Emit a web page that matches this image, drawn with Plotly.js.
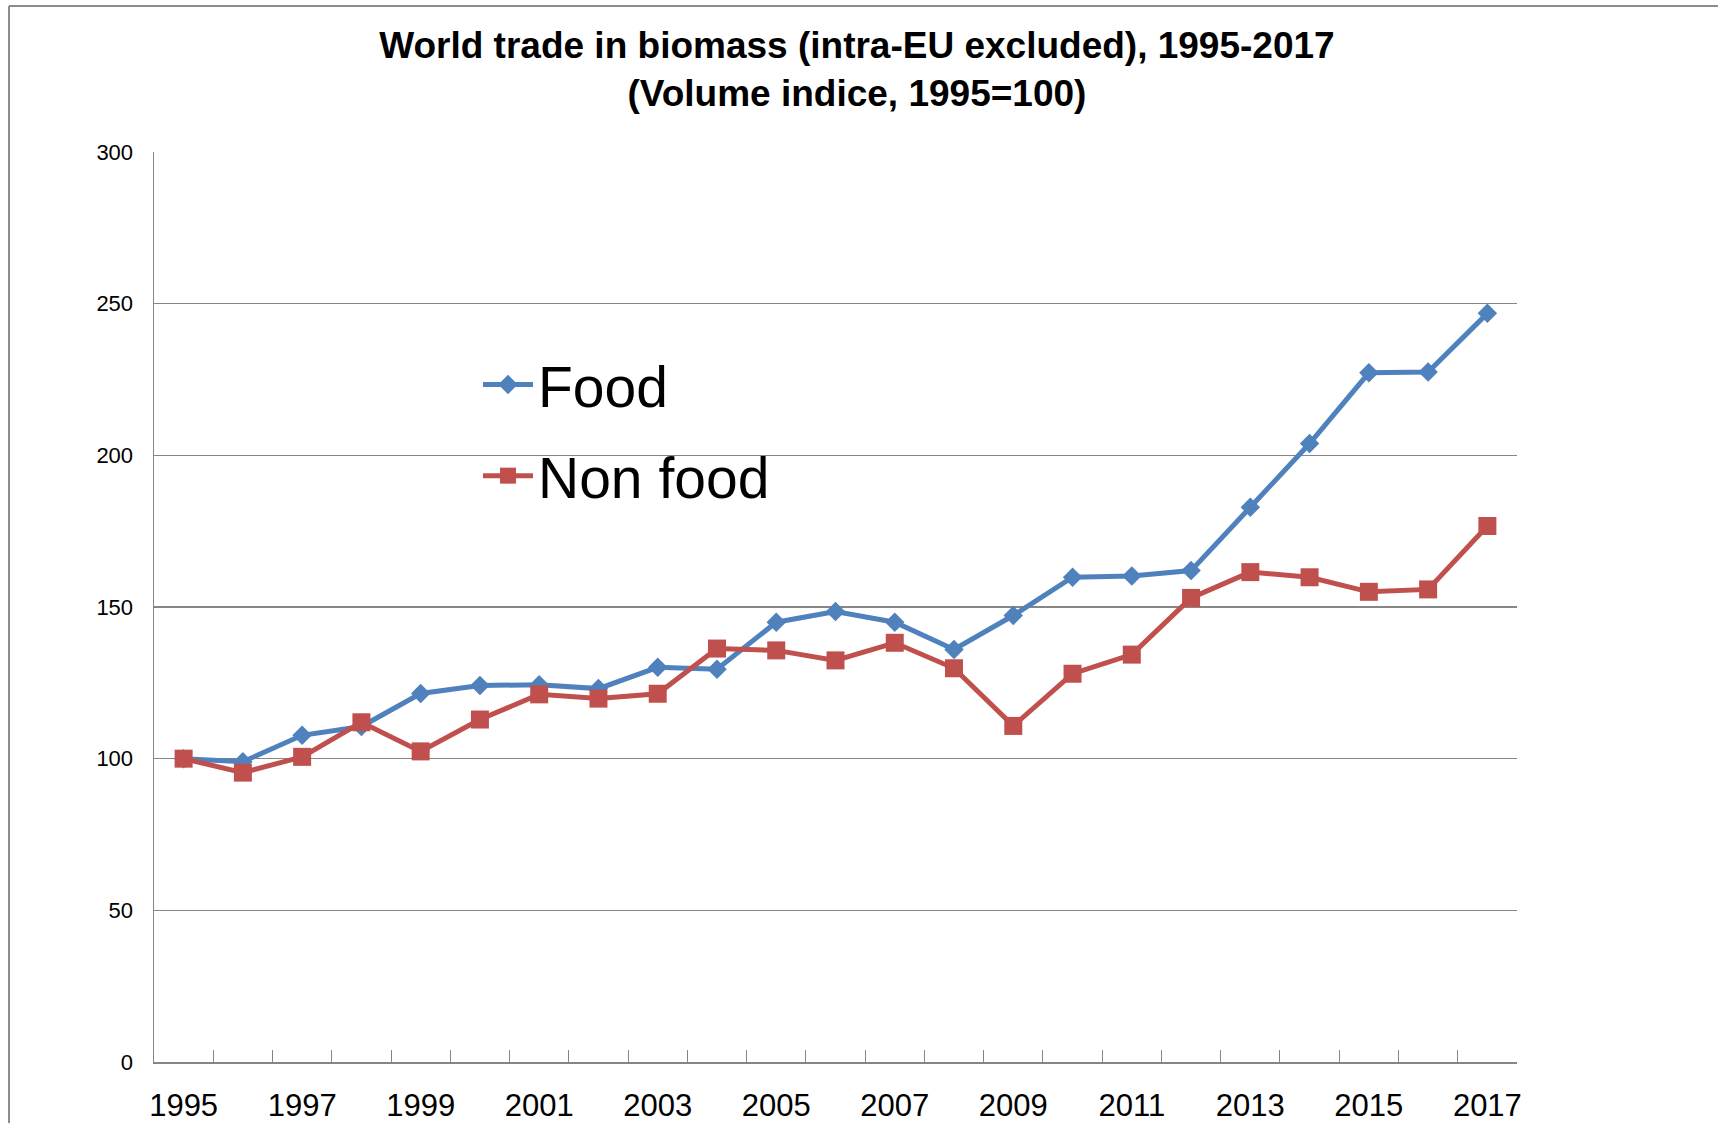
<!DOCTYPE html>
<html>
<head>
<meta charset="utf-8">
<script src="https://cdn.plot.ly/plotly-3.0.1.min.js"></script>
<style>
  html, body { margin: 0; padding: 0; background: #ffffff; }
  #chart { width: 1718px; height: 1123px; }
</style>
</head>
<body>
<div id="chart"></div>
<script>
// ---- Data ----
var years = ['1995','1996','1997','1998','1999','2000','2001','2002','2003','2004','2005','2006',
             '2007','2008','2009','2010','2011','2012','2013','2014','2015','2016','2017'];
var xTickLabels = ['1995','','1997','','1999','','2001','','2003','','2005','',
                   '2007','','2009','','2011','','2013','','2015','','2017'];
var foodValues = [100, 99, 107.7, 110.6, 121.5, 124.1, 124.4, 123.1, 130.1, 129.5, 145, 148.5,
                  145, 136, 147.2, 159.8, 160.2, 162, 182.9, 203.9, 227.2, 227.5, 246.8];
var nonFoodValues = [100, 95.4, 100.6, 112, 102.4, 112.9, 121.2, 119.8, 121.4, 136.3, 135.7, 132.4,
                     138.2, 129.8, 110.8, 128, 134.3, 153, 161.5, 159.8, 155, 155.8, 176.7];
var seriesNames = ['Food', 'Non food'];
var titleText = 'World trade in biomass (intra-EU excluded), 1995-2017<br>(Volume indice, 1995=100)';

// ---- Layout geometry ----
var W = 1718, H = 1123;
var mL = 154, mR = 201, mT = 152, mB = 61;
var pw = W - mL - mR, ph = H - mT - mB;
function px2x(px) { return (px - mL) / pw; }
function px2y(py) { return (H - mB - py) / ph; }

var traces = [
  {
    x: years, y: foodValues, name: seriesNames[0], type: 'scatter', mode: 'lines+markers',
    line: { color: '#4F81BD', width: 5 },
    marker: { symbol: 'diamond', size: 15, color: '#4F81BD' },
    legendgroup: 'a'
  },
  {
    x: years, y: nonFoodValues, name: seriesNames[1], type: 'scatter', mode: 'lines+markers',
    line: { color: '#C0504D', width: 5 },
    marker: { symbol: 'square', size: 18, color: '#C0504D' },
    legendgroup: 'b'
  }
];

var layout = {
  width: W, height: H,
  margin: { l: mL, r: mR, t: mT, b: mB },
  paper_bgcolor: '#ffffff',
  plot_bgcolor: '#ffffff',
  font: { family: 'Liberation Sans, Arial, sans-serif', color: '#000000' },
  title: {
    text: titleText,
    font: { family: 'Liberation Sans, Arial, sans-serif', size: 37, weight: 'bold', color: '#000000' },
    x: 0.4988, xref: 'container', xanchor: 'center',
    y: 0.948, yref: 'container', yanchor: 'top'
  },
  showlegend: true,
  legend: {
    x: px2x(478), y: px2y(341), xanchor: 'left', yanchor: 'top',
    font: { size: 57, color: '#000000' },
    bgcolor: 'rgba(0,0,0,0)',
    itemwidth: 50,
    tracegroupgap: 14,
    traceorder: 'grouped'
  },
  xaxis: {
    type: 'category',
    tickmode: 'array', tickvals: years, ticktext: xTickLabels,
    tickson: 'boundaries',
    ticks: 'inside', ticklen: 12, tickwidth: 1, tickcolor: '#868686',
    showline: true, linecolor: '#868686', linewidth: 1.5,
    showgrid: false, zeroline: false,
    tickangle: 0,
    tickfont: { size: 31, color: '#000000' },
    ticklabelstandoff: 15,
    range: [-0.5, 22.5]
  },
  yaxis: {
    range: [0, 300], dtick: 50, tick0: 0,
    showgrid: true, gridcolor: '#868686', gridwidth: 1.5,
    showline: true, linecolor: '#868686', linewidth: 1.5,
    zeroline: false, ticks: '',
    tickfont: { size: 22, color: '#000000' },
    ticklabelstandoff: 15
  },
  shapes: [
    { type: 'line', xref: 'paper', yref: 'paper', x0: px2x(9), x1: px2x(9), y0: px2y(H + 5), y1: px2y(6),
      line: { color: '#8c8c8c', width: 2 } },
    { type: 'line', xref: 'paper', yref: 'paper', x0: px2x(9), x1: px2x(W + 5), y0: px2y(6), y1: px2y(6),
      line: { color: '#8c8c8c', width: 2 } }
  ]
};

Plotly.newPlot('chart', traces, layout, { displayModeBar: false, staticPlot: true });
</script>
</body>
</html>
